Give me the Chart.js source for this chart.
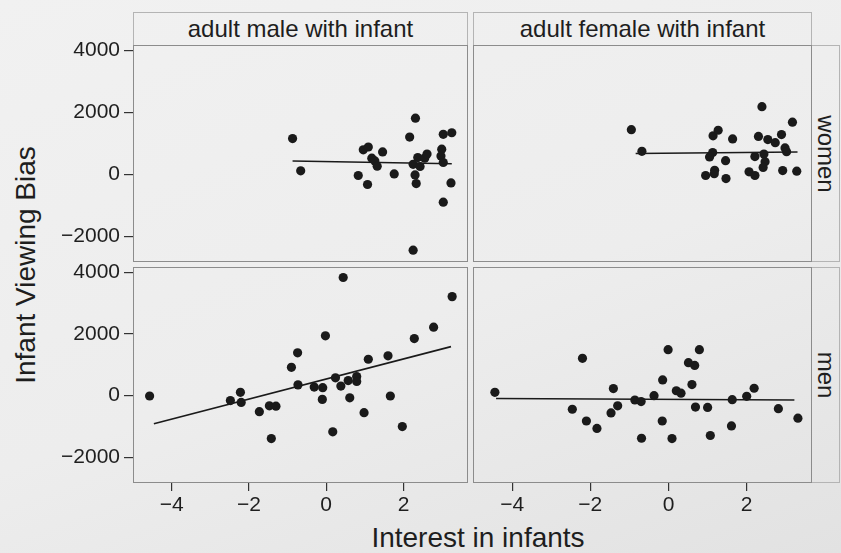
<!DOCTYPE html>
<html>
<head>
<meta charset="utf-8">
<script src="https://cdn.jsdelivr.net/npm/chart.js@4.4.1/dist/chart.umd.min.js"></script>
<style>
  html, body { margin: 0; padding: 0; }
  body {
    width: 841px; height: 553px; position: relative; overflow: hidden;
    background: linear-gradient(160deg, #f1f1f1 0%, #ededed 55%, #e2e2e2 100%);
    font-family: 'Liberation Sans', Arial, sans-serif; color: #1e1e1e;
  }
  canvas { position: absolute; }
  .strip { position: absolute; box-sizing: border-box; border: 1px solid #b4b4b4; border-bottom: none;
           display: flex; align-items: center; justify-content: center; font-size: 24px; }
  .side { position: absolute; box-sizing: border-box; border: 1px solid #b4b4b4; border-left: none; }
  .side span { position: absolute; left: 50%; top: 50%; font-size: 24px; white-space: nowrap;
               transform: translate(-50%, -50%) rotate(90deg); }
  .title { position: absolute; font-size: 28px; white-space: nowrap; }
</style>
</head>
<body>
<div class="strip" style="left:133px;top:12px;width:335px;height:33px;">adult male with infant</div>
<div class="strip" style="left:473px;top:12px;width:339px;height:33px;">adult female with infant</div>
<div class="side" style="left:812px;top:45px;width:28px;height:217px;"><span>women</span></div>
<div class="side" style="left:812px;top:267px;width:28px;height:216px;"><span>men</span></div>
<div class="title" style="left:26px;top:265px;transform:translate(-50%,-50%) rotate(-90deg);">Infant Viewing Bias</div>
<div class="title" style="left:478px;top:538px;transform:translate(-50%,-50%);">Interest in infants</div>

<!-- each canvas starts 12px above its panel so the top tick label fits -->
<canvas id="tl" width="428" height="229" style="left:40px;top:33px;"></canvas>
<canvas id="tr" width="339" height="229" style="left:473px;top:33px;"></canvas>
<canvas id="bl" width="428" height="268" style="left:40px;top:255px;"></canvas>
<canvas id="br" width="339" height="268" style="left:473px;top:255px;"></canvas>

<script>
// women, adult male with infant
const womenMaleX = [-0.87, -0.66, 0.83, 1.07, 0.96, 1.09, 1.18, 1.26, 1.32, 1.46, 1.76, 2.16, 2.31, 2.37, 2.25, 2.30, 2.33, 2.43, 2.55, 2.61, 2.99, 2.97, 3.03, 3.03, 3.25, 3.23, 3.03, 2.25];
const womenMaleY = [1150, 110, -40, -330, 790, 880, 520, 430, 260, 720, 10, 1200, 1810, 540, 320, -20, -300, 250, 520, 650, 810, 590, 380, 1290, 1340, -280, -900, -2450];
const womenMaleFitX = [-0.87, 3.25];
const womenMaleFitY = [430, 340];

// women, adult female with infant
const womenFemaleX = [-0.95, -0.68, 1.14, 1.27, 1.64, 1.13, 1.05, 1.46, 1.18, 1.17, 0.95, 1.47, 2.39, 2.30, 2.54, 2.73, 2.89, 3.17, 2.98, 3.02, 2.21, 2.44, 2.47, 2.42, 2.06, 2.21, 2.92, 3.28];
const womenFemaleY = [1440, 740, 1240, 1420, 1140, 700, 560, 440, 130, 20, -40, -140, 2180, 1220, 1120, 1020, 1280, 1680, 850, 730, 570, 650, 400, 220, 80, -40, 120, 100];
const womenFemaleFitX = [-0.84, 3.30];
const womenFemaleFitY = [670, 720];

// men, adult male with infant
const menMaleX = [-4.57, -2.48, -2.22, -2.20, -1.73, -1.47, -1.30, -1.42, -0.90, -0.74, -0.73, 0.44, -0.02, -0.31, -0.09, -0.10, 0.24, 0.38, 0.57, 0.79, 0.79, 0.61, 0.17, 0.98, 1.09, 1.60, 1.66, 1.97, 2.28, 2.78, 3.26];
const menMaleY = [-10, -160, 110, -220, -520, -330, -340, -1390, 920, 1390, 350, 3830, 1940, 280, 260, -120, 580, 310, 490, 620, 460, -70, -1170, -550, 1180, 1290, -10, -1000, 1850, 2220, 3210];
const menMaleFitX = [-4.46, 3.23];
const menMaleFitY = [-910, 1590];

// men, adult female with infant
const menFemaleX = [-4.44, -2.20, -2.46, -2.10, -1.83, -1.47, -1.30, -1.41, -0.86, -0.69, -0.70, -0.37, -0.15, -0.16, 0.09, -0.01, 0.20, 0.32, 0.51, 0.67, 0.79, 0.60, 0.69, 1.00, 1.07, 1.63, 1.61, 2.00, 2.19, 2.81, 3.31];
const menFemaleY = [110, 1210, -440, -820, -1060, -560, -330, 230, -140, -1380, -190, 0, 510, -820, -1390, 1490, 160, 80, 1070, 980, 1490, 360, -370, -380, -1290, -130, -980, -20, 240, -420, -730];
const menFemaleFitX = [-4.41, 3.22];
const menFemaleFitY = [-90, -140];

const xTicks = [-4, -2, 0, 2];
const yTicks = [-2000, 0, 2000, 4000];

Chart.defaults.font.family = "'Liberation Sans', Arial, sans-serif";
Chart.defaults.font.size = 21;
Chart.defaults.color = '#1e1e1e';

const pts = (xs, ys) => xs.map((x, i) => ({ x: x, y: ys[i] }));
const minus = v => String(v).replace('-', '\u2212');

// thin frame round each panel
const frame = {
  id: 'frame',
  afterDraw(chart) {
    const a = chart.chartArea, ctx = chart.ctx;
    ctx.save();
    ctx.strokeStyle = '#8c8c8c';
    ctx.lineWidth = 1;
    ctx.strokeRect(a.left + 0.5, a.top + 0.5, a.right - a.left - 1, a.bottom - a.top - 1);
    ctx.restore();
  }
};

function panel(id, xs, ys, fx, fy, showX, showY) {
  new Chart(document.getElementById(id), {
    data: {
      datasets: [
        { type: 'scatter', data: pts(xs, ys), pointRadius: 4.6, pointHoverRadius: 4.6,
          backgroundColor: '#1a1a1a', borderWidth: 0 },
        { type: 'line', data: pts(fx, fy), borderColor: '#1a1a1a', borderWidth: 1.6,
          pointRadius: 0, fill: false }
      ]
    },
    options: {
      responsive: false,
      animation: false,
      layout: { padding: { top: 12, left: 0, right: 0, bottom: 0 }, autoPadding: false },
      plugins: { legend: { display: false }, tooltip: { enabled: false } },
      scales: {
        x: {
          type: 'linear', min: -5.0, max: 3.67, display: showX,
          afterFit: s => {
            s.height = showX ? 40 : 0;
            s.paddingLeft = 0; s.paddingRight = 0;
          },
          afterBuildTicks: s => { s.ticks = xTicks.map(v => ({ value: v })); },
          ticks: { callback: minus, padding: 2, maxRotation: 0 },
          grid: { drawOnChartArea: false, tickLength: 8, color: '#333', lineWidth: 1.2 },
          border: { display: false }
        },
        y: {
          type: 'linear', min: -2830, max: 4170, display: showY,
          afterFit: s => {
            s.width = showY ? 93 : 0;
            s.paddingTop = 0; s.paddingBottom = 0;
          },
          afterBuildTicks: s => { s.ticks = yTicks.map(v => ({ value: v })); },
          ticks: { callback: minus, padding: 4 },
          grid: { drawOnChartArea: false, tickLength: 9, color: '#333', lineWidth: 1.2 },
          border: { display: false }
        }
      }
    },
    plugins: [frame]
  });
}

panel('tl', womenMaleX, womenMaleY, womenMaleFitX, womenMaleFitY, false, true);
panel('tr', womenFemaleX, womenFemaleY, womenFemaleFitX, womenFemaleFitY, false, false);
panel('bl', menMaleX, menMaleY, menMaleFitX, menMaleFitY, true, true);
panel('br', menFemaleX, menFemaleY, menFemaleFitX, menFemaleFitY, true, false);
</script>
</body>
</html>
